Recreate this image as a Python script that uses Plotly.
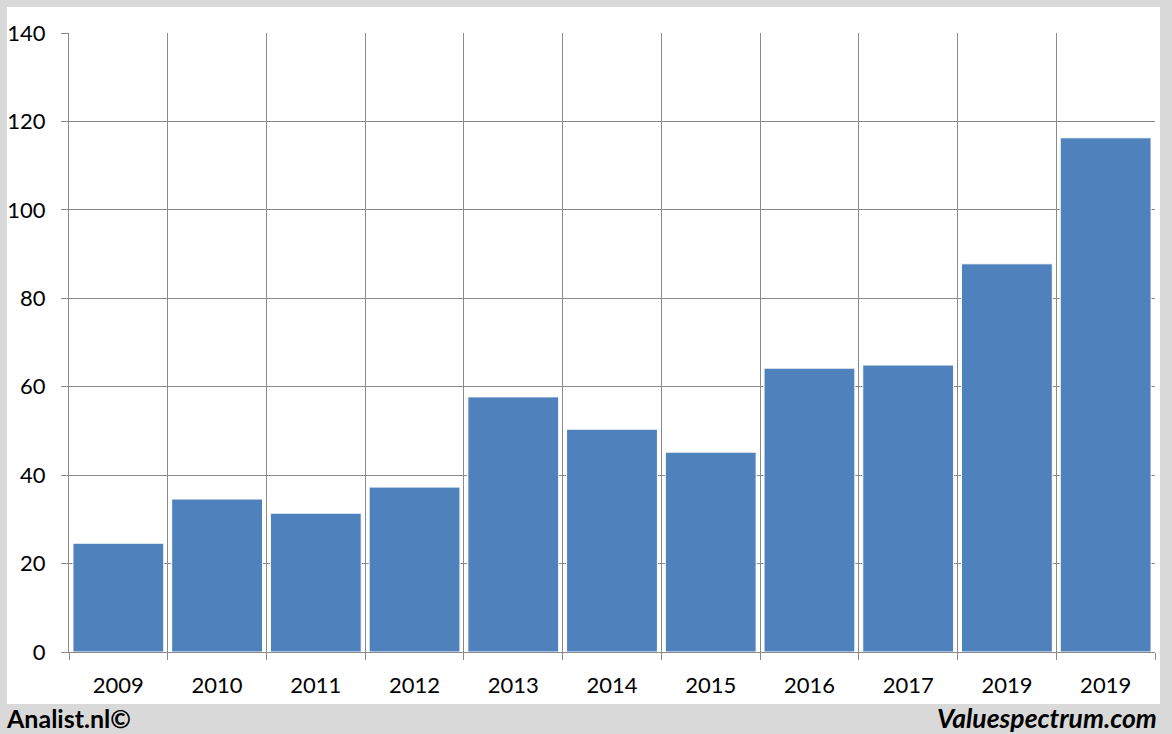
import plotly.graph_objects as go

years = ["2009", "2010", "2011", "2012", "2013", "2014", "2015", "2016", "2017", "2019", "2019"]
values = [24.6, 34.6, 31.4, 37.3, 57.7, 50.4, 45.2, 64.2, 64.9, 87.8, 116.3]
y_ticks = [0, 20, 40, 60, 80, 100, 120, 140]

pos = list(range(len(years)))
bounds = [i - 0.5 for i in range(len(years) + 1)]

FONT = "Lato, 'Open Sans', sans-serif"
GRID = "#8a8a8a"

fig = go.Figure(go.Bar(
    x=pos, y=values,
    marker=dict(color="#4f81bd", line=dict(color="white", width=1)),
    width=0.92,
))

W, H = 1172, 734
L, R, T, B = 69, 17, 33, 82
pw, ph = W - L - R, H - T - B

def px2x(px):
    return (px - L) / pw

def py2y(py):
    return (H - B - py) / ph

fig.add_shape(type="rect", xref="paper", yref="paper",
              x0=px2x(7), x1=px2x(1160), y0=py2y(704), y1=py2y(7),
              fillcolor="white", line=dict(width=0), layer="below")

fig.update_layout(
    width=W, height=H,
    margin=dict(l=L, r=R, t=T, b=B, autoexpand=False),
    paper_bgcolor="#d9d9d9",
    plot_bgcolor="rgba(0,0,0,0)",
    showlegend=False,
    font=dict(family=FONT, size=21, color="black"),
    xaxis=dict(
        range=[-0.5, len(years) - 0.5],
        tickvals=pos, ticktext=years,
        showgrid=False, ticks="", ticklabelstandoff=14,
        showline=True, linecolor=GRID, linewidth=1,
        minor=dict(tickvals=bounds, showgrid=True, gridcolor=GRID, gridwidth=1,
                   ticks="outside", ticklen=7, tickcolor=GRID),
        tickfont=dict(size=22),
        zeroline=False, automargin=False,
    ),
    yaxis=dict(
        range=[0, 140], tickvals=y_ticks,
        showgrid=True, gridcolor=GRID, gridwidth=1,
        showline=True, linecolor=GRID, linewidth=1,
        ticks="outside", ticklen=7, tickcolor=GRID,
        ticklabelstandoff=11,
        tickfont=dict(size=22),
        zeroline=False, automargin=False,
    ),
    bargap=0.08,
)

fig.add_annotation(text="<b>Analist.nl©</b>", xref="paper", yref="paper",
                   x=px2x(4), y=py2y(718), xanchor="left", yanchor="middle",
                   showarrow=False, font=dict(size=25, family=FONT))
fig.add_annotation(text="<b><i>Valuespectrum.com</i></b>", xref="paper", yref="paper",
                   x=px2x(1159), y=py2y(718), xanchor="right", yanchor="middle",
                   showarrow=False, font=dict(size=26.5, family=FONT))

fig.write_html("out.html", config={"displayModeBar": False},
               post_script="document.body.style.margin='0';")
